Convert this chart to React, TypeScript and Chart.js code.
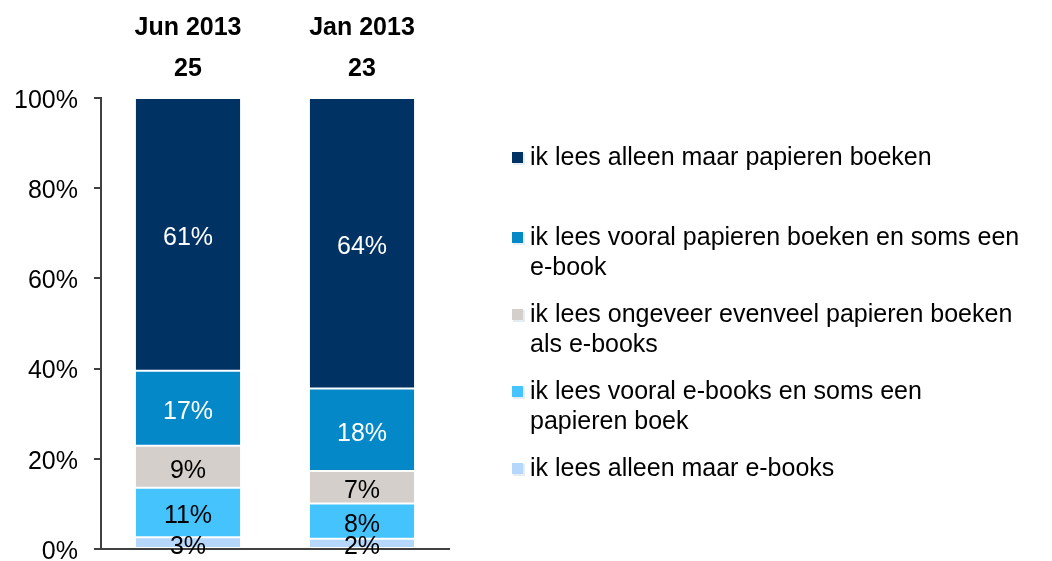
import React, { useEffect, useRef } from "react";
import { Chart, registerables } from "chart.js";

Chart.register(...registerables);

const categories = ["Jun 2013", "Jan 2013"];
const sampleSizes = ["25", "23"];
const seriesNames = [
  "ik lees alleen maar e-books",
  "ik lees vooral e-books en soms een papieren boek",
  "ik lees ongeveer evenveel papieren boeken als e-books",
  "ik lees vooral papieren boeken en soms een e-book",
  "ik lees alleen maar papieren boeken",
];
const onlyEbooks = [2.6, 2.3];
const mostlyEbooks = [11.0, 7.8];
const equal = [9.3, 7.2];
const mostlyPaper = [16.6, 18.3];
const onlyPaper = [60.5, 64.4];
const yTicks = [0, 20, 40, 60, 80, 100];

const colors = ["#b5d7fc", "#45c3fd", "#d5cfcb", "#0588c8", "#003264"];
const labelColors = ["#000000", "#000000", "#000000", "#ffffff", "#ffffff"];

// legend lines (top to bottom), wrapped as in the reference
const legendOrder = [4, 3, 2, 1, 0];
const legendLines = [
  ["ik lees alleen maar papieren boeken"],
  ["ik lees vooral papieren boeken en soms een", "e-book"],
  ["ik lees ongeveer evenveel papieren boeken", "als e-books"],
  ["ik lees vooral e-books en soms een", "papieren boek"],
  ["ik lees alleen maar e-books"],
];
const legendY = [158, 238, 315, 392, 469];

const FONT = "'Liberation Sans', Arial, sans-serif";

const labelPlugin = {
  id: "segLabels",
  afterDatasetsDraw(chart: any) {
    const ctx = chart.ctx;
    ctx.save();
    ctx.font = `25px ${FONT}`;
    ctx.textAlign = "center";
    ctx.textBaseline = "middle";
    chart.data.datasets.forEach((ds: any, di: number) => {
      const meta = chart.getDatasetMeta(di);
      meta.data.forEach((bar: any, i: number) => {
        const v = ds.data[i];
        const cy = (bar.y + bar.base) / 2 + 4;
        ctx.fillStyle = labelColors[di];
        ctx.fillText(Math.round(v) + "%", bar.x, cy);
      });
    });
    ctx.restore();
  },
};

const legendPlugin = {
  id: "customLegend",
  afterDraw(chart: any) {
    const ctx = chart.ctx;
    ctx.save();
    ctx.font = `25px ${FONT}`;
    ctx.textBaseline = "middle";
    ctx.textAlign = "left";
    legendOrder.forEach((si, k) => {
      const y = legendY[k];
      ctx.fillStyle = "#e4ecf4";
      ctx.fillRect(513, y - 5, 12, 12);
      ctx.fillStyle = colors[si];
      ctx.fillRect(512, y - 6, 11, 11);
      ctx.fillStyle = "#000000";
      legendLines[k].forEach((line, li) => {
        ctx.fillText(line, 530, y + li * 30);
      });
    });
    ctx.restore();
  },
};

export default function App() {
  const ref = useRef<HTMLCanvasElement | null>(null);
  useEffect(() => {
    if (!ref.current) return;
    const series = [onlyEbooks, mostlyEbooks, equal, mostlyPaper, onlyPaper];
    const chart = new Chart(ref.current, {
      type: "bar",
      data: {
        labels: categories,
        datasets: series.map((d, i) => ({
          label: seriesNames[i],
          data: d,
          backgroundColor: colors[i],
          borderColor: "#ffffff",
          borderWidth: 1,
          borderSkipped: false,
          barPercentage: 0.61,
          categoryPercentage: 1,
          xAxisID: "x",
        })),
      },
      options: {
        responsive: false,
        animation: false,
        maintainAspectRatio: false,
        layout: { padding: { left: 13, right: 603, top: 6, bottom: 12 } },
        plugins: {
          legend: { display: false },
          tooltip: { enabled: false },
          title: { display: false },
        },
        scales: {
          x: {
            stacked: true,
            position: "bottom",
            ticks: { display: false },
            grid: { display: false },
            border: { display: true, color: "#404040", width: 2 },
            afterFit: (axis: any) => {
              axis.height = 0;
              axis.paddingLeft = 0;
              axis.paddingRight = 0;
            },
          },
          x2: {
            type: "category",
            labels: categories.map((c, i) => [c, sampleSizes[i]]),
            position: "top",
            offset: true,
            grid: { display: false },
            border: { display: false },
            ticks: {
              color: "#000000",
              font: { family: FONT, size: 25, weight: "bold", lineHeight: 1.64 },
              padding: 0,
              maxRotation: 0,
            },
            afterFit: (axis: any) => {
              axis.height = 92;
              axis.paddingLeft = 0;
              axis.paddingRight = 0;
            },
          },
          y: {
            stacked: true,
            min: 0,
            max: 100,
            afterBuildTicks: (axis: any) => {
              axis.ticks = yTicks.map((v) => ({ value: v }));
            },
            ticks: {
              color: "#000000",
              font: { family: FONT, size: 25 },
              padding: 16,
              labelOffset: 3,
              callback: (v: any) => v + "%",
            },
            grid: {
              display: true,
              drawOnChartArea: false,
              drawTicks: true,
              tickLength: 7,
              color: "#404040",
              lineWidth: 2,
            },
            border: { display: true, color: "#404040", width: 2 },
            afterFit: (axis: any) => {
              axis.width = 88;
              axis.paddingTop = 0;
              axis.paddingBottom = 0;
            },
          },
        },
      },
      plugins: [labelPlugin, legendPlugin],
    } as any);
    return () => chart.destroy();
  }, []);
  return (
    <div style={{ position: "fixed", left: 0, top: 0, width: 1052, height: 561, background: "#ffffff" }}>
      <canvas ref={ref} width={1052} height={561} style={{ width: 1052, height: 561, display: "block" }} />
    </div>
  );
}
